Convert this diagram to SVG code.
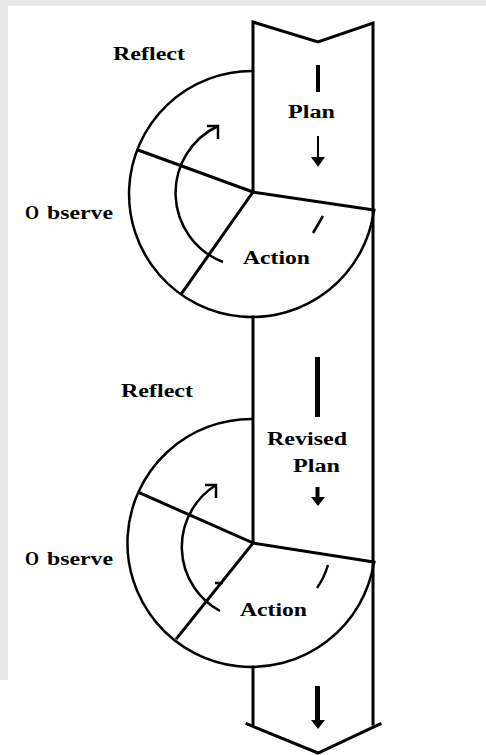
<svg xmlns="http://www.w3.org/2000/svg" width="486" height="755" viewBox="0 0 486 755">
<style>
.ln{fill:none;stroke:#000;stroke-width:3;stroke-linecap:square;stroke-linejoin:miter}
.arc{fill:none;stroke:#000;stroke-width:2.5}
.lbl{font-family:"Liberation Serif","Times New Roman",serif;font-weight:bold;font-size:18px;fill:#000}
.bar{fill:#000}
</style>
<rect x="0" y="0" width="486" height="755" fill="#ffffff"/>
<rect x="0" y="0" width="486" height="6" fill="#e8e8e8"/>
<rect x="0" y="0" width="8" height="680" fill="#e8e8e8"/>

<g id="band">
  <polyline class="ln" points="253,192 253,22 318,42 373,23 373,724"/>
  <line class="ln" x1="253" y1="317" x2="253" y2="543"/>
  <line class="ln" x1="253" y1="667" x2="253" y2="724"/>
  <polyline class="ln" points="247,724 318,753 380,724"/>
</g>

<g id="cycle1">
  <path class="arc" d="M 253 71 A 123 123 0 1 0 374 210"/>
  <line class="ln" x1="253" y1="192" x2="374" y2="210"/>
  <line class="ln" x1="253" y1="192" x2="138" y2="150"/>
  <line class="ln" x1="253" y1="192" x2="182" y2="293"/>
</g>

<g id="cycle2">
  <path class="arc" d="M 253 419 A 124 124 0 1 0 374 562"/>
  <line class="ln" x1="253" y1="543" x2="374" y2="562"/>
  <line class="ln" x1="253" y1="543" x2="140" y2="493"/>
  <line class="ln" x1="253" y1="543" x2="177" y2="638"/>
</g>

<g id="connectors">
  <path class="arc" d="M 223 262 A 74 74 0 0 1 218 126"/>
  <polyline class="arc" points="207,126 218,126 218,139"/>
  <path class="arc" d="M 323 216 L 313 233"/>
  <path class="arc" d="M 220 611 A 73 73 0 0 1 216 485"/>
  <polyline class="arc" points="205,485 216,485 216,498"/>
  <line class="arc" x1="215" y1="583" x2="223" y2="583"/>
  <path class="arc" d="M 328 565 Q 324 578 317 588"/>
  <rect class="bar" x="316" y="65" width="4" height="27"/>
  <line x1="318" y1="136" x2="318" y2="158" stroke="#000" stroke-width="2"/>
  <polygon class="bar" points="311,157 325,157 318,167"/>
  <rect class="bar" x="315" y="357" width="5" height="60"/>
  <rect class="bar" x="315.5" y="487" width="4" height="11"/>
  <polygon class="bar" points="311,497 325,497 318,506"/>
  <rect class="bar" x="315" y="686" width="5" height="35"/>
  <polygon class="bar" points="311,720 325,720 318,729"/>
</g>

<g id="labels">
  <text class="lbl" x="113" y="60" textLength="72" lengthAdjust="spacingAndGlyphs">Reflect</text>
  <text class="lbl" y="219"><tspan x="25">O</tspan><tspan x="47" textLength="66" lengthAdjust="spacingAndGlyphs">bserve</tspan></text>
  <text class="lbl" x="288" y="118" textLength="47" lengthAdjust="spacingAndGlyphs">Plan</text>
  <text class="lbl" x="243" y="264" textLength="67" lengthAdjust="spacingAndGlyphs">Action</text>
  <text class="lbl" x="121" y="397" textLength="72" lengthAdjust="spacingAndGlyphs">Reflect</text>
  <text class="lbl" x="267" y="445" textLength="80" lengthAdjust="spacingAndGlyphs">Revised</text>
  <text class="lbl" x="293" y="472" textLength="47" lengthAdjust="spacingAndGlyphs">Plan</text>
  <text class="lbl" y="565"><tspan x="25">O</tspan><tspan x="47" textLength="66" lengthAdjust="spacingAndGlyphs">bserve</tspan></text>
  <text class="lbl" x="240" y="616" textLength="67" lengthAdjust="spacingAndGlyphs">Action</text>
</g>
</svg>
